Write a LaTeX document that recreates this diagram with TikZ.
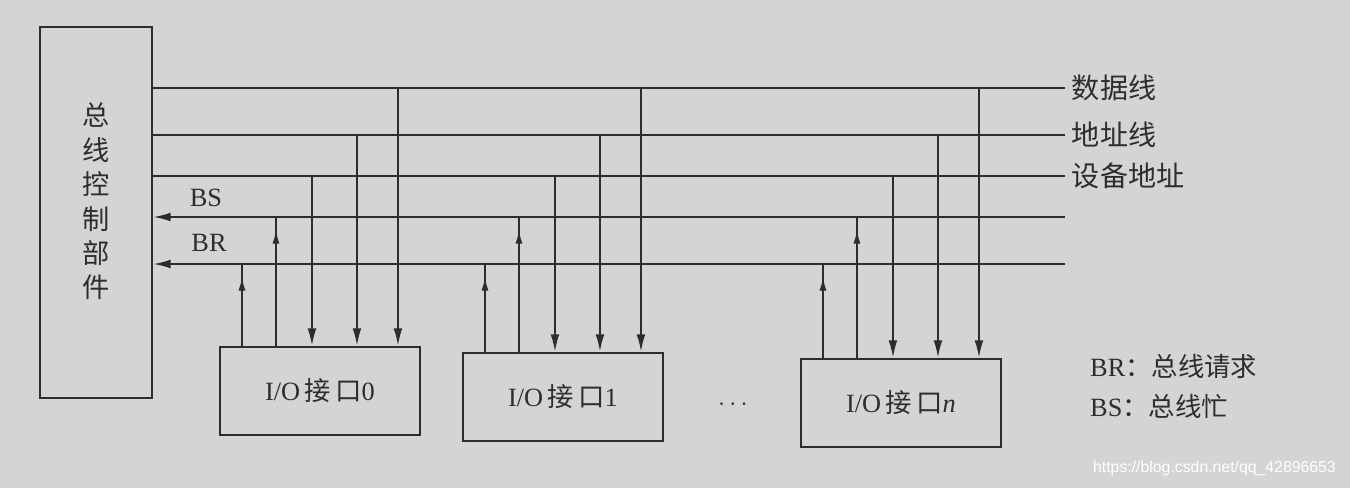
\documentclass[tikz,border=0pt]{standalone}
\usepackage{fontspec}
\setmainfont{Liberation Serif}
\newfontfamily\cjk{Noto Sans CJK SC}
\newfontfamily\urlfont{Liberation Sans}
\usetikzlibrary{positioning,calc,arrows.meta,decorations.markings}
\definecolor{paper}{RGB}{212,212,210}
\definecolor{ink}{RGB}{45,45,45}

\begin{document}
\begin{tikzpicture}[x=0.02cm, y=-0.02cm, >={Latex[length=10pt,width=5pt]},
    every node/.style={font=\fontsize{15}{17}\selectfont, text=ink},
    unit/.style={draw=ink, line width=1.2pt, minimum width=4cm, minimum height=1.76cm, inner sep=0pt},
    bus/.style={draw=ink, line width=1.2pt},
    buslbl/.style={right, font=\cjk\fontsize{16}{18}\selectfont},
    upline/.style={bus, postaction={decorate}, decoration={markings,
        mark=at position -0.25cm with {\arrow{Latex[length=8pt,width=4pt]}}}}]
    \fill[paper] (0,0) rectangle (1350,488);

    % bus control unit
    \node [unit, minimum width=2.24cm, minimum height=7.42cm] (ctrl) at (96,212.5) {};
    \node [align=center, font=\cjk\fontsize{15.5}{19.6}\selectfont] (ctrltext) at ($(ctrl)+(0,-11)$) {总\\线\\控\\制\\部\\件};

    % right ends of the bus lines
    \coordinate (data) at (1065,88);
    \coordinate (addr) at (1065,135);
    \coordinate (dev) at (1065,176);
    \coordinate (bs) at (1065,217);
    \coordinate (br) at (1065,264);

    \draw [bus] (ctrl.east |- data) -- (data) node [buslbl] (datalbl) {数据线};
    \draw [bus] (ctrl.east |- addr) -- (addr) node [buslbl] (addrlbl) {地址线};
    \draw [bus] (ctrl.east |- dev) -- (dev) node [buslbl] (devlbl) {设备地址};
    \draw [bus, ->] (bs) -- (ctrl.east |- bs);
    \draw [bus, ->] (br) -- (ctrl.east |- br);
    \node (bslbl) at (206,198) {BS};
    \node (brlbl) at (209,243) {BR};

    % interfaces
    \node [unit] (io0) at (320,391) {I/O\,{\cjk 接\,口}0};
    \node [unit] (io1) at (563,397) {I/O\,{\cjk 接\,口}1};
    \node [unit] (ion) at (901,403) {I/O\,{\cjk 接\,口}\textit{n}};
    \node (dots) at (733,405) {$\cdots$};

    \foreach \b in {io0,io1,ion} {
        \foreach \dx/\t in {23/br,57/bs,93/dev,138/addr,179/data}
            \coordinate (\b-\t) at ($(\b.north west)+(\dx,0)$);
        \draw [upline] (\b-br) -- (\b-br |- br);
        \draw [upline] (\b-bs) -- (\b-bs |- bs);
        \draw [bus, ->] (\b-dev |- dev) -- (\b-dev);
        \draw [bus, ->] (\b-addr |- addr) -- (\b-addr);
        \draw [bus, ->] (\b-data |- data) -- (\b-data);
    }

    % key
    \node [anchor=west] (keybr) at (1084,366) {BR{\cjk ：总线请求}};
    \node [anchor=west] (keybs) at (1084,406) {BS{\cjk ：总线忙}};

    \node [anchor=east, font=\urlfont\fontsize{9}{11}\selectfont, text=white] (mark) at (1342,468) {https://blog.csdn.net/qq\_42896653};
\end{tikzpicture}
\end{document}
